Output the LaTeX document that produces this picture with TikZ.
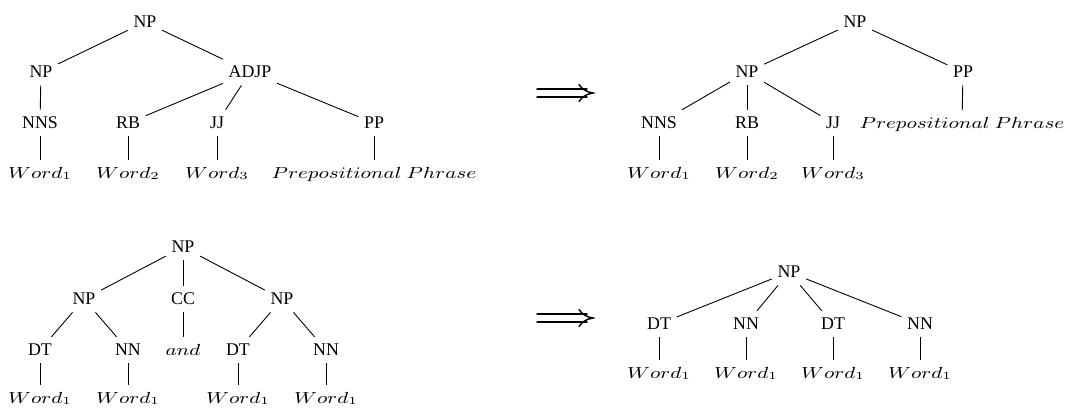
\documentclass[tikz,border=0pt]{standalone}
\usepackage{graphicx}
\usepackage{fontspec}
\setmainfont{Liberation Serif}
\newcommand{\mtext}[1]{\scalebox{1.28}[1]{\fontsize{9}{10}\selectfont$#1$}}
\begin{document}
\begin{tikzpicture}[x=0.5602pt,y=-0.5602pt,
  lbl/.style={anchor=base,inner sep=3pt,text height=7pt,text depth=1.5pt,font=\fontsize{10}{12}\selectfont},
  edge/.style={draw,line width=0.5pt},
  bigarrow/.style={line width=0.8pt,line cap=round}]
\useasboundingbox (0,0) rectangle (1089,408);
% ---------- top left ----------
\node[lbl] (a1) at (145,27) {NP};
\node[lbl] (a2) at (41,77) {NP};
\node[lbl] (a3) at (250,77) {ADJP};
\node[lbl] (a4) at (40,128) {NNS};
\node[lbl] (a5) at (128,128) {RB};
\node[lbl] (a6) at (217,128) {JJ};
\node[lbl] (a7) at (374,128) {PP};
\node[lbl] (a8) at (40,178) {\mtext{Word_1}};
\node[lbl] (a9) at (128,178) {\mtext{Word_2}};
\node[lbl] (a10) at (217,178) {\mtext{Word_3}};
\node[lbl] (a11) at (374,178) {\mtext{Prepositional\ Phrase}};
\path[edge] (a1) -- (a2);
\path[edge] (a1) -- (a3);
\path[edge] (a2) -- (a4);
\path[edge] (a3) -- (a5);
\path[edge] (a3) -- (a6);
\path[edge] (a3) -- (a7);
\path[edge] (a4) -- (a8);
\path[edge] (a5) -- (a9);
\path[edge] (a6) -- (a10);
\path[edge] (a7) -- (a11);
% ---------- top arrow (long double arrow) ----------
\begin{scope}[shift={(0,93)}]
  \draw[bigarrow] (537,-4) -- (587,-4) (537,4) -- (587,4);
  \draw[bigarrow] (579,-8.5) .. controls (582,-4) and (586,-1) .. (593,0)
                  .. controls (586,1) and (582,4) .. (579,8.5);
\end{scope}
% ---------- top right ----------
\node[lbl] (b1) at (855,27) {NP};
\node[lbl] (b2) at (747,77) {NP};
\node[lbl] (b3) at (963,77) {PP};
\node[lbl] (b4) at (659,128) {NNS};
\node[lbl] (b5) at (747,128) {RB};
\node[lbl] (b6) at (833,128) {JJ};
\node[lbl] (b7) at (962,128) {\mtext{Prepositional\ Phrase}};
\node[lbl] (b8) at (659,178) {\mtext{Word_1}};
\node[lbl] (b9) at (747,178) {\mtext{Word_2}};
\node[lbl] (b10) at (833,178) {\mtext{Word_3}};
\path[edge] (b1) -- (b2);
\path[edge] (b1) -- (b3);
\path[edge] (b2) -- (b4);
\path[edge] (b2) -- (b5);
\path[edge] (b2) -- (b6);
\path[edge] (b3) -- (b7);
\path[edge] (b4) -- (b8);
\path[edge] (b5) -- (b9);
\path[edge] (b6) -- (b10);
% ---------- bottom left ----------
\node[lbl] (c1) at (183,252) {NP};
\node[lbl] (c2) at (84,304) {NP};
\node[lbl] (c3) at (183,304) {CC};
\node[lbl] (c4) at (282,304) {NP};
\node[lbl] (c5) at (40,355) {DT};
\node[lbl] (c6) at (128,355) {NN};
\node[lbl] (c7) at (183,355) {\mtext{and}};
\node[lbl] (c8) at (238,355) {DT};
\node[lbl] (c9) at (326,355) {NN};
\node[lbl] (c10) at (40,403) {\mtext{Word_1}};
\node[lbl] (c11) at (128,403) {\mtext{Word_1}};
\node[lbl] (c12) at (238,403) {\mtext{Word_1}};
\node[lbl] (c13) at (326,403) {\mtext{Word_1}};
\path[edge] (c1) -- (c2);
\path[edge] (c1) -- (c3);
\path[edge] (c1) -- (c4);
\path[edge] (c2) -- (c5);
\path[edge] (c2) -- (c6);
\path[edge] (c3) -- (c7);
\path[edge] (c4) -- (c8);
\path[edge] (c4) -- (c9);
\path[edge] (c5) -- (c10);
\path[edge] (c6) -- (c11);
\path[edge] (c8) -- (c12);
\path[edge] (c9) -- (c13);
% ---------- bottom arrow (long double arrow) ----------
\begin{scope}[shift={(0,318)}]
  \draw[bigarrow] (537,-4) -- (587,-4) (537,4) -- (587,4);
  \draw[bigarrow] (579,-8.5) .. controls (582,-4) and (586,-1) .. (593,0)
                  .. controls (586,1) and (582,4) .. (579,8.5);
\end{scope}
% ---------- bottom right ----------
\node[lbl] (d1) at (789,277) {NP};
\node[lbl] (d2) at (659,329) {DT};
\node[lbl] (d3) at (746,329) {NN};
\node[lbl] (d4) at (833,329) {DT};
\node[lbl] (d5) at (920,329) {NN};
\node[lbl] (d6) at (659,378) {\mtext{Word_1}};
\node[lbl] (d7) at (746,378) {\mtext{Word_1}};
\node[lbl] (d8) at (833,378) {\mtext{Word_1}};
\node[lbl] (d9) at (920,378) {\mtext{Word_1}};
\path[edge] (d1) -- (d2);
\path[edge] (d1) -- (d3);
\path[edge] (d1) -- (d4);
\path[edge] (d1) -- (d5);
\path[edge] (d2) -- (d6);
\path[edge] (d3) -- (d7);
\path[edge] (d4) -- (d8);
\path[edge] (d5) -- (d9);
\end{tikzpicture}
\end{document}
